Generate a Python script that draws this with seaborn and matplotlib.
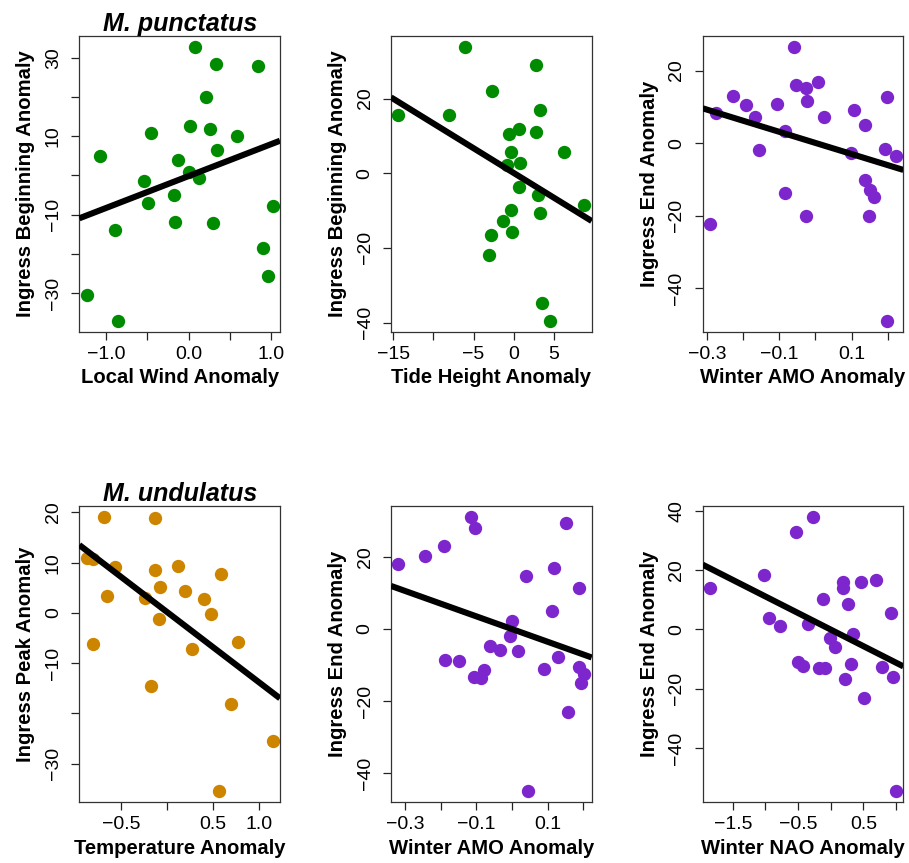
" Ingress timing anomalies vs environmental anomalies "
import numpy as np
import pandas as pd
import matplotlib
matplotlib.use('Agg')
import matplotlib.pyplot as plt
import seaborn as sns

# M. punctatus: ingress beginning vs local wind
wind_x = [0.073, 0.331, 0.842, 0.214, 0.021, 0.254, -0.450, 0.588, 0.339, -1.070,
          -0.128, 0.008, 0.129, -0.535, -0.177, -0.491, 1.015, -0.893, -0.161, 0.290,
          0.898, 0.963, -1.231, -0.853]
wind_y = [32.9, 28.4, 28.0, 20.1, 12.7, 11.9, 10.9, 10.0, 6.5, 5.0,
          4.0, 1.0, -0.7, -1.3, -4.9, -7.0, -7.8, -13.9, -11.9, -12.2,
          -18.5, -25.7, -30.4, -37.1]

# M. punctatus: ingress beginning vs tide height
tide_x = [-6.06, 2.74, -2.66, -14.37, -8.06, 3.28, -0.59, 0.66, 2.78, 6.26,
          -0.29, -0.83, 0.78, 0.66, 3.03, 8.80, -0.34, 3.28, -1.37, -2.87,
          -0.25, -3.08, 3.57, 4.52]
tide_y = [33.9, 29.0, 22.0, 15.5, 15.6, 16.9, 10.6, 11.8, 11.1, 5.6,
          5.7, 2.3, 2.8, -3.7, -5.8, -8.4, -9.9, -10.6, -12.8, -16.5,
          -15.8, -21.8, -34.8, -39.5]

# M. punctatus: ingress end vs winter AMO
amo1_x = [-0.059, 0.008, -0.055, -0.027, -0.228, 0.197, -0.193, -0.106, -0.024, -0.275,
          -0.168, 0.023, 0.108, 0.138, -0.085, -0.156, 0.099, 0.193, 0.223, 0.138,
          0.150, 0.161, -0.085, -0.027, 0.148, -0.292, 0.197]
amo1_y = [26.6, 16.9, 16.1, 15.2, 13.1, 12.7, 10.5, 10.9, 11.7, 8.2,
          7.3, 7.3, 9.0, 5.0, 3.4, -1.9, -2.8, -1.5, -3.5, -10.2,
          -12.9, -15.0, -13.9, -20.1, -20.1, -22.3, -49.0]

# M. undulatus: ingress peak vs temperature
temp_x = [-0.682, -0.130, -0.874, -0.802, -0.567, -0.137, 0.119, 0.581, -0.079, 0.188,
          -0.653, -0.245, 0.404, 0.477, -0.094, -0.809, 0.773, 0.274, -0.181, 0.693,
          1.144, 0.563]
temp_y = [19.15, 18.95, 10.9, 10.8, 9.2, 8.5, 9.4, 7.75, 5.2, 4.4,
          3.3, 2.9, 2.85, -0.2, -1.2, -6.1, -5.8, -7.2, -14.5, -18.1,
          -25.4, -35.5]

# M. undulatus: ingress end vs winter AMO
amo2_x = [-0.115, -0.105, 0.152, -0.192, -0.243, -0.319, 0.119, 0.039, 0.187, 0.113,
          0.001, -0.006, -0.061, -0.034, 0.016, 0.129, -0.187, -0.148, 0.089, -0.079,
          -0.107, -0.088, 0.187, 0.203, 0.195, 0.157, 0.046]
amo2_y = [31.1, 28.1, 29.4, 23.0, 20.1, 18.1, 17.0, 14.65, 11.4, 4.9,
          2.3, -2.1, -4.8, -5.9, -6.0, -7.65, -8.6, -8.9, -11.1, -11.3,
          -13.45, -13.6, -10.6, -12.5, -15.1, -22.9, -45.0]

# M. undulatus: ingress end vs winter NAO
nao_x = [-0.276, -0.526, -1.026, -1.847, 0.184, 0.194, 0.469, 0.689, -0.112, 0.270,
         0.929, -0.939, -0.776, -0.352, 0.337, -0.005, 0.061, -0.500, -0.419, -0.174,
         -0.082, 0.316, 0.781, 0.949, 0.219, 0.510, 1.000]
nao_y = [38.0, 32.8, 18.3, 13.9, 16.1, 13.9, 15.95, 16.5, 10.1, 8.4,
         5.5, 3.8, 1.0, 1.7, -1.5, -3.0, -5.95, -11.1, -12.4, -13.1,
         -13.1, -11.7, -12.6, -16.2, -16.7, -23.0, -54.6]

# fitted lines (intercept, slope)
fit_intercept = [-0.15, 0.08, 0.04, 0.15, -0.04, -0.06]
fit_slope = [8.17, -1.323, -30.56, -14.0, -35.17, -11.16]

x_labels = ['Local Wind Anomaly', 'Tide Height Anomaly', 'Winter AMO Anomaly',
            'Temperature Anomaly', 'Winter AMO Anomaly', 'Winter NAO Anomaly']
y_labels = ['Ingress Beginning Anomaly', 'Ingress Beginning Anomaly', 'Ingress End Anomaly',
            'Ingress Peak Anomaly', 'Ingress End Anomaly', 'Ingress End Anomaly']
titles = ['M. punctatus', '', '', 'M. undulatus', '', '']

# tick positions and shown labels ('' = hidden like R does on overlap)
x_ticks = [[-1.0, -0.5, 0.0, 0.5, 1.0],
           [-15, -10, -5, 0, 5],
           [-0.3, -0.2, -0.1, 0.0, 0.1, 0.2],
           [-0.5, 0.0, 0.5, 1.0],
           [-0.3, -0.2, -0.1, 0.0, 0.1, 0.2],
           [-1.5, -1.0, -0.5, 0.0, 0.5, 1.0]]
x_ticklabels = [['−1.0', '', '0.0', '', '1.0'],
                ['−15', '', '−5', '0', '5'],
                ['−0.3', '', '−0.1', '', '0.1', ''],
                ['−0.5', '', '0.5', '1.0'],
                ['−0.3', '', '−0.1', '', '0.1', ''],
                ['−1.5', '', '−0.5', '', '0.5', '']]
y_ticks = [[-30, -20, -10, 0, 10, 20, 30],
           [-40, -20, 0, 20],
           [-40, -20, 0, 20],
           [-30, -20, -10, 0, 10, 20],
           [-40, -20, 0, 20],
           [-40, -20, 0, 20, 40]]
y_ticklabels = [['−30', '', '−10', '', '10', '', '30'],
                ['−40', '−20', '0', '20'],
                ['−40', '−20', '0', '20'],
                ['−30', '', '−10', '0', '10', '20'],
                ['−40', '−20', '0', '20'],
                ['−40', '−20', '0', '20', '40']]

GREEN = '#008B00'
PURPLE = '#7D26CD'
ORANGE = '#CD8500'

if __name__ == "__main__":
    sns.set_style('ticks')
    plt.rcParams['font.family'] = ['Liberation Sans', 'DejaVu Sans']
    plt.rcParams['text.color'] = 'black'
    plt.rcParams['axes.labelcolor'] = 'black'
    plt.rcParams['xtick.color'] = 'black'
    plt.rcParams['ytick.color'] = 'black'

    panels = [(wind_x, wind_y, GREEN), (tide_x, tide_y, GREEN), (amo1_x, amo1_y, PURPLE),
              (temp_x, temp_y, ORANGE), (amo2_x, amo2_y, PURPLE), (nao_x, nao_y, PURPLE)]

    fig = plt.figure(figsize=(9.09, 8.63), dpi=100)
    W, H = 909, 863
    lefts = [79.3, 391.0, 702.7]
    rows = [(35.7, 331.7), (505.7, 802.3)]
    width = 200.7

    for i, (xs, ys, col) in enumerate(panels):
        top, bottom = rows[i // 3]
        left = lefts[i % 3]
        ax = fig.add_axes([left / W, 1 - bottom / H, width / W, (bottom - top) / H])
        df = pd.DataFrame({'x': xs, 'y': ys})
        sns.scatterplot(data=df, x='x', y='y', ax=ax, color=col, s=92,
                        linewidth=0, zorder=2)
        ax.margins(x=0.04, y=0.04)
        ax.autoscale_view()
        ax.set_xlim(ax.get_xlim())
        ax.set_ylim(ax.get_ylim())
        ax.axline((0, fit_intercept[i]), slope=fit_slope[i], color='black',
                  lw=4.4, zorder=3, solid_capstyle='butt')

        ax.set_xticks(x_ticks[i])
        ax.set_xticklabels(x_ticklabels[i])
        ax.set_yticks(y_ticks[i])
        ax.set_yticklabels(y_ticklabels[i], rotation=90, va='center')
        ax.tick_params(axis='both', length=5.5, width=0.9, labelsize=14,
                       color='#222222')
        ax.tick_params(axis='x', pad=4.5)
        ax.tick_params(axis='y', pad=7)
        ax.set_xlabel(x_labels[i], fontsize=14.6, fontweight='bold', labelpad=4)
        ax.set_ylabel(y_labels[i], fontsize=14.6, fontweight='bold', labelpad=7)
        for s in ax.spines.values():
            s.set_visible(True)
            s.set_linewidth(0.9)
            s.set_color('#333333')
        if titles[i]:
            ax.set_title(titles[i], fontsize=18, fontweight='bold',
                         fontstyle='italic', pad=3)

    plt.savefig('out.png', dpi=100)
    plt.close()
